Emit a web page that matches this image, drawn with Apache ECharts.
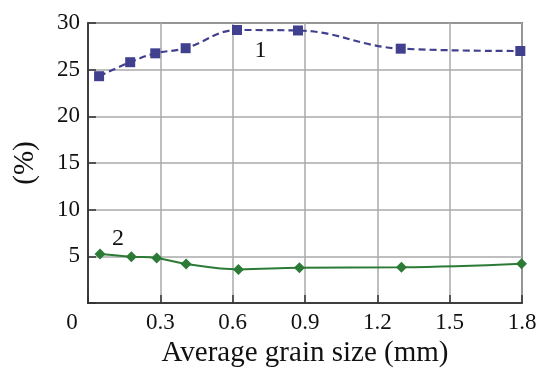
<!DOCTYPE html>
<html lang="en">
<head>
    <meta charset="UTF-8">
    <title>Average grain size</title>
    <script src="https://cdn.jsdelivr.net/npm/echarts@6/dist/echarts.min.js"></script>
    <style>
        html, body { margin: 0; padding: 0; background: #fff; }
    </style>
</head>
<body>
<div id="main" style="width: 544px;height:369px;"></div>
<script type="text/javascript">
    // curve 1 (dashed, squares) and curve 2 (solid, diamonds)
    var grainSize1 = [0.046, 0.175, 0.279, 0.405, 0.618, 0.871, 1.297, 1.793];
    var values1 = [24.3, 25.8, 26.75, 27.3, 29.25, 29.2, 27.25, 27.0];
    var grainSize2 = [0.05, 0.18, 0.285, 0.407, 0.624, 0.877, 1.30, 1.798];
    var values2 = [5.25, 4.96, 4.82, 4.18, 3.6, 3.78, 3.82, 4.2];
    // curve number labels [x, y, text]
    var curveLabel1 = [0.715, 27.0, '1'];
    var curveLabel2 = [0.124, 6.9, '2'];

    var font = 'Liberation Serif';
    var blue = '#40408f';
    var green = '#2b7a36';

    function pairs(xs, ys) {
        var res = [];
        for (var i = 0; i < xs.length; i++) {
            res.push([xs[i], ys[i]]);
        }
        return res;
    }

    function numberMark(lbl) {
        return {
            symbol: 'circle',
            symbolSize: 0,
            silent: true,
            label: {
                show: true,
                position: 'inside',
                formatter: lbl[2],
                color: '#111',
                fontFamily: font,
                fontSize: 24
            },
            data: [{ coord: [lbl[0], lbl[1]] }]
        };
    }

    var myChart = echarts.init(document.getElementById('main'));
    var option = {
        animation: false,
        grid: {
            left: 88, right: 22, top: 23, bottom: 66,
            outerBoundsMode: 'none',
            containLabel: false,
            show: true,
            borderColor: '#222',
            borderWidth: 1.5
        },
        xAxis: {
            type: 'value',
            min: 0, max: 1.8, interval: 0.3,
            name: 'Average grain size (mm)',
            nameLocation: 'middle',
            nameGap: 36,
            nameTextStyle: { fontFamily: font, fontSize: 29, color: '#111' },
            axisLine: { show: true, lineStyle: { color: '#222', width: 1.5 } },
            axisTick: { show: true, inside: true, length: 8, lineStyle: { color: '#333', width: 1.5 } },
            axisLabel: {
                margin: 8,
                fontFamily: font, fontSize: 23, color: '#111',
                formatter: function (v) {
                    return v === 0 ? '{z|0}' : v.toFixed(1);
                },
                rich: {
                    z: { fontFamily: font, fontSize: 23, color: '#111', padding: [0, 32, 0, 0] }
                }
            },
            splitLine: { show: true, lineStyle: { color: '#aaa', width: 1.5 } }
        },
        yAxis: {
            type: 'value',
            min: 0, max: 30, interval: 5,
            name: '(%)',
            nameLocation: 'middle',
            nameGap: 48,
            nameTextStyle: { fontFamily: font, fontSize: 29, color: '#111' },
            axisLine: { show: true, lineStyle: { color: '#222', width: 1.5 } },
            axisTick: { show: true, inside: true, length: 8, lineStyle: { color: '#333', width: 1.5 } },
            axisLabel: {
                margin: 8,
                fontFamily: font, fontSize: 23, color: '#111',
                formatter: function (v) { return v === 0 ? '' : v; }
            },
            splitLine: { show: true, lineStyle: { color: '#aaa', width: 1.5 } }
        },
        series: [
            {
                name: '1',
                type: 'line',
                data: pairs(grainSize1, values1),
                smooth: 0.4,
                symbol: 'rect',
                symbolSize: 10,
                itemStyle: { color: blue },
                lineStyle: { color: blue, width: 2.2, type: [7, 4] },
                markPoint: numberMark(curveLabel1)
            },
            {
                name: '2',
                type: 'line',
                data: pairs(grainSize2, values2),
                smooth: 0.4,
                symbol: 'diamond',
                symbolSize: 11,
                itemStyle: { color: green },
                lineStyle: { color: green, width: 2 },
                markPoint: numberMark(curveLabel2)
            }
        ]
    };
    myChart.setOption(option);
</script>
</body>
</html>
